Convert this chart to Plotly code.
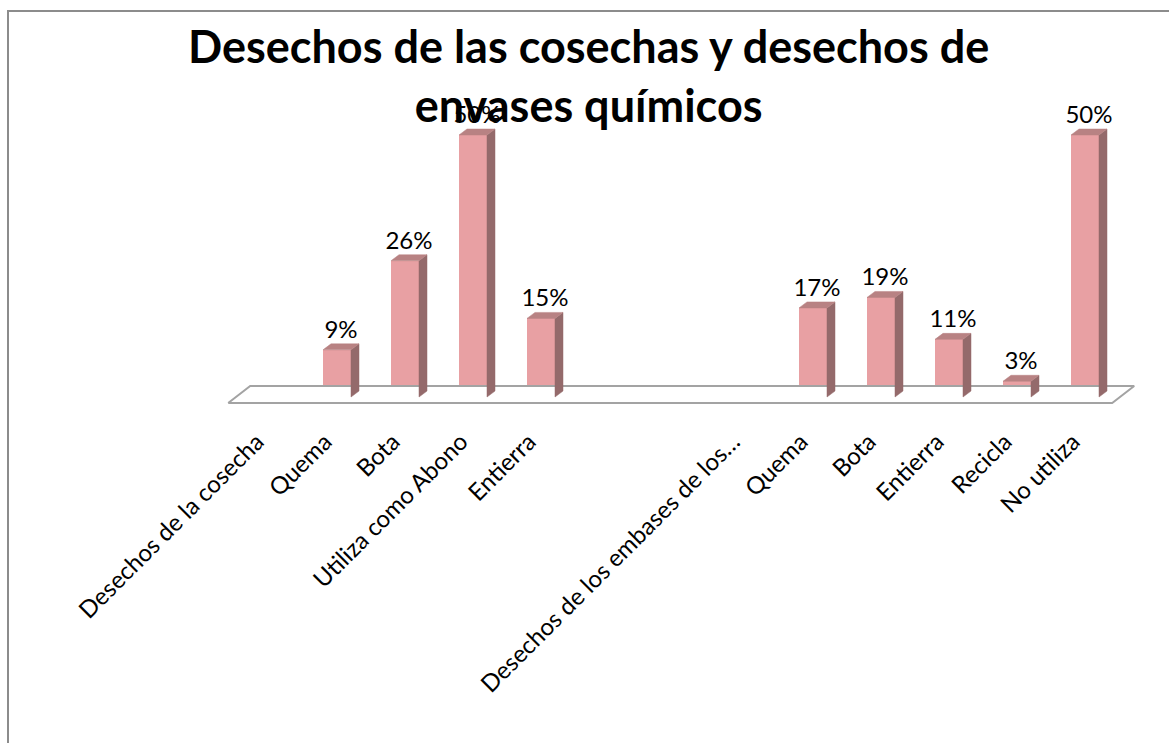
import plotly.graph_objects as go

# ---- data ----
categories = [
    "Desechos de la cosecha", "Quema", "Bota", "Utiliza como Abono", "Entierra",
    "", "",
    "Desechos de los embases de los…", "Quema", "Bota", "Entierra", "Recicla", "No utiliza",
]
values = [None, 9, 26, 50, 15, None, None, None, 17, 19, 11, 3, 50]
labels = ["" if v is None else f"{v}%" for v in values]

title_text = "Desechos de las cosechas y desechos de<br>envases químicos"

# ---- style ----
FRONT = "#E8A0A3"
SIDE = "#946A6B"
TOP = "#B88283"
FLOOR = "#A3A3A3"
FONT = "Lato"

W, H = 1169, 743
ML, MR, MT, MB = 200, 20, 90, 321
X0_PX, STEP_PX = 269, 68          # pixel of category 0, px per category
Y0_PX, PX_PER_UNIT = 397, 5.24    # pixel of value 0, px per percent

plot_w = W - ML - MR
plot_h = H - MT - MB
x_range = [(ML - X0_PX) / STEP_PX, (W - MR - X0_PX) / STEP_PX]
y_range = [(Y0_PX - (H - MB)) / PX_PER_UNIT, (Y0_PX - MT) / PX_PER_UNIT]

bw = 28 / STEP_PX                 # bar front width
dx = 8 / STEP_PX                  # depth offset x
dy = 6 / PX_PER_UNIT              # depth offset y

n = len(categories)
idx = list(range(n))

fig = go.Figure()

# floor (parallelogram)
fx0, fx1 = -0.60, n - 1 + 0.40
fdx, fdy = 22 / STEP_PX, 17 / PX_PER_UNIT
fy = -6 / PX_PER_UNIT
fig.add_trace(go.Scatter(
    x=[fx0, fx1, fx1 + fdx, fx0 + fdx, fx0],
    y=[fy, fy, fy + fdy, fy + fdy, fy],
    mode="lines", fill="toself", fillcolor="white",
    line=dict(color=FLOOR, width=2), hoverinfo="skip", showlegend=False,
))

# side and top faces
for i, v in zip(idx, values):
    if v is None:
        continue
    xr = i + bw / 2
    xl = i - bw / 2
    fig.add_trace(go.Scatter(
        x=[xr, xr + dx, xr + dx, xr, xr],
        y=[0, dy, v + dy, v, 0],
        mode="lines", fill="toself", fillcolor=SIDE,
        line=dict(color=SIDE, width=0.5), hoverinfo="skip", showlegend=False,
    ))
    fig.add_trace(go.Scatter(
        x=[xl, xr, xr + dx, xl + dx, xl],
        y=[v, v, v + dy, v + dy, v],
        mode="lines", fill="toself", fillcolor=TOP,
        line=dict(color=TOP, width=0.5), hoverinfo="skip", showlegend=False,
    ))

# front faces
fig.add_trace(go.Bar(
    x=idx, y=[0 if v is None else v for v in values], width=bw,
    marker=dict(color=FRONT, line=dict(width=0)), showlegend=False,
))

# data labels
lx = [i + dx / 2 for i, v in zip(idx, values) if v is not None]
ly = [v + dy for v in values if v is not None]
lt = [t for t, v in zip(labels, values) if v is not None]
fig.add_trace(go.Scatter(
    x=lx, y=ly, text=lt, mode="text", textposition="top center",
    textfont=dict(family=FONT, size=24, color="black"),
    hoverinfo="skip", showlegend=False,
))

# title on top
fig.add_annotation(
    text=title_text, xref="paper", yref="paper",
    x=(588 - ML) / plot_w, y=(H - MB - 17) / plot_h,
    xanchor="center", yanchor="top", showarrow=False,
    font=dict(family=FONT, size=45, color="black", weight="bold"),
)

# outer border (top and left visible)
fig.add_shape(
    type="rect", xref="paper", yref="paper",
    x0=(8 - ML) / plot_w, x1=(W + 50 - ML) / plot_w,
    y0=(H - MB - (H + 50)) / plot_h, y1=(H - MB - 11) / plot_h,
    line=dict(color="#8C8C8C", width=2), fillcolor="rgba(0,0,0,0)", layer="below",
)

fig.update_layout(
    width=W, height=H,
    margin=dict(l=ML, r=MR, t=MT, b=MB, autoexpand=False),
    paper_bgcolor="white", plot_bgcolor="white",
    bargap=0,
    font=dict(family=FONT, color="black"),
)
fig.update_xaxes(
    range=x_range, tickmode="array", tickvals=idx, ticktext=categories,
    tickangle=-45, tickfont=dict(family=FONT, size=24, color="black"),
    ticklabelshift=-12,
    showgrid=False, zeroline=False, showline=False, ticks="", automargin=False,
)
fig.update_yaxes(
    range=y_range, visible=False, showgrid=False, zeroline=False,
)

fig.write_html(
    "out.html",
    config={"displayModeBar": False},
    post_script="document.body.style.margin='0';",
)
